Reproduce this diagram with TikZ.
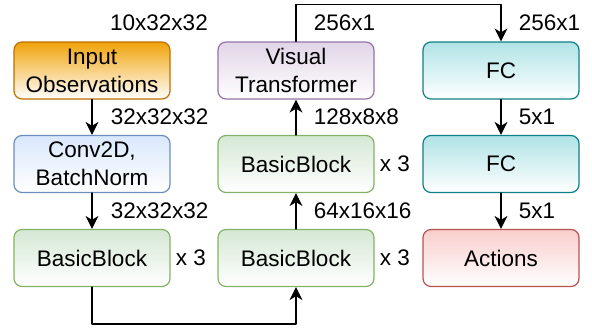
\documentclass[tikz,border=0pt]{standalone}
\usepackage{fontspec}
\setmainfont{Liberation Sans}
\usetikzlibrary{arrows.meta}
\definecolor{ffaaoo}{HTML}{F0A30A}
\definecolor{bdsoo}{HTML}{BD7000}
\definecolor{dabfc}{HTML}{DAE8FC}
\definecolor{sceebf}{HTML}{6C8EBF}
\definecolor{ddeedd}{HTML}{D5E8D4}
\definecolor{bbbsss}{HTML}{82B366}
\definecolor{eeddee}{HTML}{E1D5E7}
\definecolor{nsssaa}{HTML}{9673A6}
\definecolor{bbeeee}{HTML}{B0E3E6}
\definecolor{oeboo}{HTML}{0E8088}
\definecolor{ffcccc}{HTML}{F8CECC}
\definecolor{bbsssb}{HTML}{B85450}
\begin{document}
\begin{tikzpicture}[x=1pt,y=1pt,line cap=round,line join=round,
  box/.style={rounded corners=8pt,minimum width=156pt,minimum height=57pt,inner sep=0pt,
    line width=1.2pt,align=center,bottom color=white,font=\fontsize{22.5}{28}\selectfont},
  lbl/.style={font=\fontsize{22.5}{28}\selectfont,inner sep=0pt},
  arr/.style={line width=1.5pt,-{Stealth[length=13pt,width=13pt,inset=4pt]}}]
\useasboundingbox (0,0) rectangle (592,333);
\node[box,draw=bdsoo,top color=ffaaoo] (inp) at (92,262.5) {Input\\Observations};
\node[box,draw=sceebf,top color=dabfc] (conv) at (92,169) {Conv2D,\\BatchNorm};
\node[box,draw=bbbsss,top color=ddeedd] (bb1) at (92,75) {BasicBlock};
\node[box,draw=bbbsss,top color=ddeedd] (bb2) at (296,75) {BasicBlock};
\node[box,draw=bbbsss,top color=ddeedd] (bb3) at (296,169) {BasicBlock};
\node[box,draw=nsssaa,top color=eeddee] (vt) at (296,262.5) {Visual\\Transformer};
\node[box,draw=oeboo,top color=bbeeee] (fc1) at (501,262.5) {FC};
\node[box,draw=oeboo,top color=bbeeee] (fc2) at (501,169) {FC};
\node[box,draw=bbsssb,top color=ffcccc] (act) at (501,75) {Actions};
\node[lbl,anchor=west] (dim0) at (110,310) {10x32x32};
\foreach \b in {bb1,bb2,bb3}
\node[lbl,anchor=west,xshift=5pt] at (\b.east) {x 3};
\draw[arr] (inp) -- (conv) node[lbl,midway,right=18pt] {32x32x32};
\draw[arr] (conv) -- (bb1) node[lbl,midway,right=18pt] {32x32x32};
\draw[arr] (bb1.south) -- ++(0,-37) -| (bb2.south);
\draw[arr] (bb2) -- (bb3) node[lbl,midway,right=17pt] {64x16x16};
\draw[arr] (bb3) -- (vt) node[lbl,midway,right=17pt] {128x8x8};
\draw[arr] (vt.north) -- ++(0,37) node[lbl,midway,right=17pt] {256x1}
  -| (fc1.north) node[lbl,pos=0.75,right=17pt] {256x1};
\draw[arr] (fc1) -- (fc2) node[lbl,midway,right=17pt] {5x1};
\draw[arr] (fc2) -- (act) node[lbl,midway,right=17pt] {5x1};
\end{tikzpicture}
\end{document}
